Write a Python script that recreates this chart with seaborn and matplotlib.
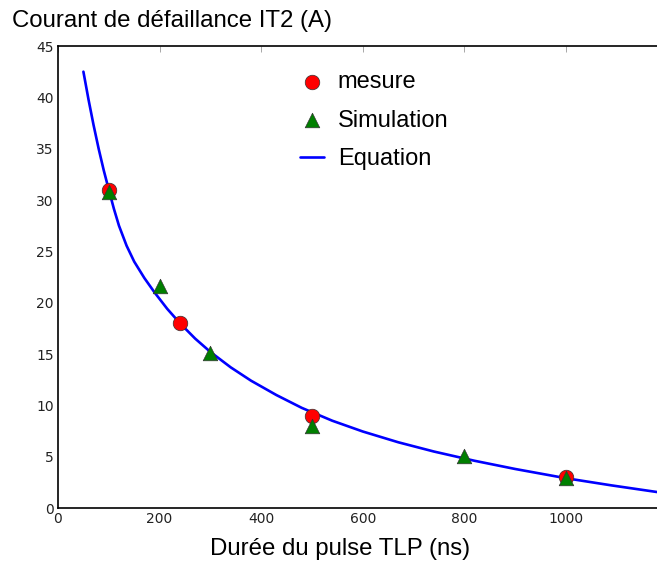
import matplotlib
matplotlib.use("Agg")
import matplotlib.pyplot as plt
import seaborn as sns
import pandas as pd

# Measured failure current vs TLP pulse width
mesure_t = [100, 240, 500, 1000]
mesure_i = [31.0, 18.0, 9.0, 3.0]

# Simulated points
sim_t = [100, 200, 300, 500, 800, 1000]
sim_i = [30.8, 21.6, 15.1, 8.0, 5.1, 2.9]

# Fitted equation curve, sampled along the pulse width axis
eq_t = [50, 60, 70, 80, 90, 100, 110, 120, 135, 150, 170, 190, 215, 240, 270,
        300, 340, 380, 430, 480, 540, 600, 670, 740, 820, 900, 1000, 1090, 1180]
eq_i = [42.5, 39.8, 37.3, 35.0, 32.9, 31.0, 29.15, 27.5, 25.55, 24.0, 22.4,
        21.0, 19.4, 18.0, 16.5, 15.2, 13.7, 12.4, 11.0, 9.75, 8.5, 7.45, 6.4,
        5.5, 4.6, 3.8, 2.9, 2.2, 1.55]

xticks = [0, 200, 400, 600, 800, 1000]
yticks = [0, 5, 10, 15, 20, 25, 30, 35, 40, 45]

sns.set_style("white")
plt.rcParams["font.family"] = ["DejaVu Sans"]
plt.rcParams["text.color"] = "black"
plt.rcParams["xtick.direction"] = "in"
plt.rcParams["ytick.direction"] = "in"

W, H = 657, 563
fig = plt.figure(figsize=(W / 100, H / 100), dpi=100)
ax = fig.add_axes([58 / W, 55 / H, (667.6 - 58) / W, 462 / H])

df_eq = pd.DataFrame({"t": eq_t, "i": eq_i})
df_m = pd.DataFrame({"t": mesure_t, "i": mesure_i})
df_s = pd.DataFrame({"t": sim_t, "i": sim_i})

sns.lineplot(data=df_eq, x="t", y="i", ax=ax, color="blue", linewidth=1.9,
             label="Equation", zorder=2, sort=True)
sns.scatterplot(data=df_m, x="t", y="i", ax=ax, marker="o", s=110,
                color="red", edgecolor="#333333", linewidth=0.5,
                label="mesure", zorder=3)
sns.scatterplot(data=df_s, x="t", y="i", ax=ax, marker="^", s=110,
                color="#007f00", edgecolor="#333333", linewidth=0.5,
                label="Simulation", zorder=4)

ax.set_xlim(0, 1200)
ax.set_ylim(0, 45)
ax.set_xticks(xticks)
ax.set_yticks(yticks)
ax.set_xlabel("")
ax.set_ylabel("")
ax.tick_params(axis="both", which="both", direction="in", top=True, right=True,
               length=4, width=0.6, color="#999999", labelsize=10,
               labelcolor="#222222", pad=3)
for sp in ax.spines.values():
    sp.set_color("black")
    sp.set_linewidth(1.2)

handles, labels = ax.get_legend_handles_labels()
order = [labels.index("mesure"), labels.index("Simulation"), labels.index("Equation")]
leg = ax.legend([handles[k] for k in order], [labels[k] for k in order],
                loc="upper left", bbox_to_anchor=(300 / W, 1 - 71 / H),
                bbox_transform=fig.transFigure, frameon=False,
                prop={"family": "Liberation Sans", "size": 17},
                handlelength=1.0, handletextpad=0.6, labelspacing=0.7,
                borderaxespad=0, borderpad=0, markerscale=1.0)
for txt in leg.get_texts():
    txt.set_color("black")

fig.text(12 / W, 1 - 21 / H, "Courant de défaillance IT2 (A)", color="black",
         ha="left", va="center", fontsize=17.3, family="Liberation Sans")
fig.text(340 / W, 1 - 549 / H, "Durée du pulse TLP (ns)", color="black",
         ha="center", va="center", fontsize=17.3, family="Liberation Sans")

fig.savefig("out.png", dpi=100)
